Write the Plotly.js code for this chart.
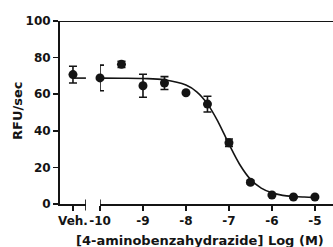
<!DOCTYPE html>
<html>
<head>
<meta charset="utf-8">
<script src="https://cdn.plot.ly/plotly-3.0.1.min.js"></script>
<style>html,body{margin:0;padding:0;background:#fff;}#chart{width:333px;height:247px;}</style>
</head>
<body>
<div id="chart"></div>
<script>
// Vehicle point (separate broken-axis segment)
const vehX = [1];
const vehLabel = ['Veh.'];
const vehY = [70.7];
const vehErr = [4.6];

// Dose-response points: log concentration (M)
const logConc = [-10, -9.5, -9, -8.5, -8, -7.5, -7, -6.5, -6, -5.5, -5];
const rfu = [68.9, 76.3, 64.6, 66.1, 60.8, 54.6, 33.5, 11.9, 4.9, 3.8, 3.8];
const rfuErr = [7.0, 1.7, 6.3, 3.5, 0.5, 4.3, 2.0, 1.0, 0.6, 0.5, 0.5];

// Fitted curve
const curveX = [-10, -9.5, -9, -8.5, -8, -7.75, -7.5, -7.25, -7, -6.75, -6.5, -6.25, -6, -5.75, -5.5, -5.25, -5];
const curveY = [68.8, 68.75, 68.6, 67.9, 65.0, 61.3, 54.7, 44.8, 32.7, 21.6, 13.5, 8.7, 6.1, 4.7, 4.1, 3.8, 3.6];
const vehCurveX = [1, 2];
const vehCurveY = [68.8, 68.8];

const xTicks = [-10, -9, -8, -7, -6, -5];
const xTickText = ['-10', '-9', '-8', '-7', '-6', '-5'];
const yTicks = [0, 20, 40, 60, 80, 100];

const ink = '#141414';
const fam = '"DejaVu Sans", "Liberation Sans", Arial, sans-serif';
const tickFont = {family: fam, size: 12, color: ink, weight: 'bold'};

const traces = [
  {x: vehCurveX, y: vehCurveY, xaxis: 'x', yaxis: 'y', mode: 'lines', cliponaxis: false,
   line: {color: ink, width: 1.6}, hoverinfo: 'skip', showlegend: false},
  {x: curveX, y: curveY, xaxis: 'x2', yaxis: 'y', mode: 'lines', cliponaxis: false,
   line: {color: ink, width: 1.6, shape: 'spline'}, hoverinfo: 'skip', showlegend: false},
  {x: vehX, y: vehY, xaxis: 'x', yaxis: 'y', mode: 'markers', type: 'scatter', cliponaxis: false,
   marker: {color: ink, size: 9},
   error_y: {type: 'data', array: vehErr, visible: true, color: ink, thickness: 1.6, width: 4},
   showlegend: false},
  {x: logConc, y: rfu, xaxis: 'x2', yaxis: 'y', mode: 'markers', type: 'scatter', cliponaxis: false,
   marker: {color: ink, size: 9},
   error_y: {type: 'data', array: rfuErr, visible: true, color: ink, thickness: 1.6, width: 4},
   showlegend: false}
];

const axisCommon = {
  showline: true, linewidth: 2, linecolor: ink, ticks: 'outside', ticklen: 5,
  tickwidth: 1.6, tickcolor: ink, showgrid: false, zeroline: false, tickfont: tickFont,
  fixedrange: true
};

const layout = {
  width: 333, height: 247,
  margin: {l: 60, r: 0, t: 21, b: 43},
  paper_bgcolor: '#fff', plot_bgcolor: '#fff',
  showlegend: false,
  xaxis: Object.assign({}, axisCommon, {
    domain: [0, 0.095], range: [0, 2], tickmode: 'array', tickvals: vehX, ticktext: vehLabel,
    anchor: 'y'
  }),
  xaxis2: Object.assign({}, axisCommon, {
    domain: [0.1465, 1], range: [-10, -4.58], tickmode: 'array', tickvals: xTicks, ticktext: xTickText,
    anchor: 'y'
  }),
  yaxis: Object.assign({}, axisCommon, {
    range: [0, 100], tickmode: 'array', tickvals: yTicks, anchor: 'x'
  }),
  shapes: [
    {type: 'line', xref: 'paper', yref: 'y', x0: 0, x1: 1, y0: 100, y1: 100,
     line: {color: ink, width: 1.8}},
    {type: 'line', xref: 'x', yref: 'paper', x0: 2, x1: 2, y0: -0.035, y1: 0.025,
     line: {color: ink, width: 1.6}},
    {type: 'line', xref: 'x2', yref: 'paper', x0: -10, x1: -10, y0: -0.035, y1: 0.025,
     line: {color: ink, width: 1.6}}
  ],
  annotations: [
    {text: 'RFU/sec', xref: 'paper', yref: 'paper', x: -0.156, y: 0.511,
     xanchor: 'center', yanchor: 'middle', textangle: -90, showarrow: false,
     font: {family: fam, size: 13, color: ink, weight: 'bold'}},
    {text: '[4-aminobenzahydrazide] Log (M)', xref: 'paper', yref: 'paper', x: 0.511, y: -0.197,
     xanchor: 'center', yanchor: 'middle', showarrow: false,
     font: {family: fam, size: 13, color: ink, weight: 'bold'}}
  ]
};

Plotly.newPlot('chart', traces, layout, {staticPlot: true, displayModeBar: false});
</script>
</body>
</html>
